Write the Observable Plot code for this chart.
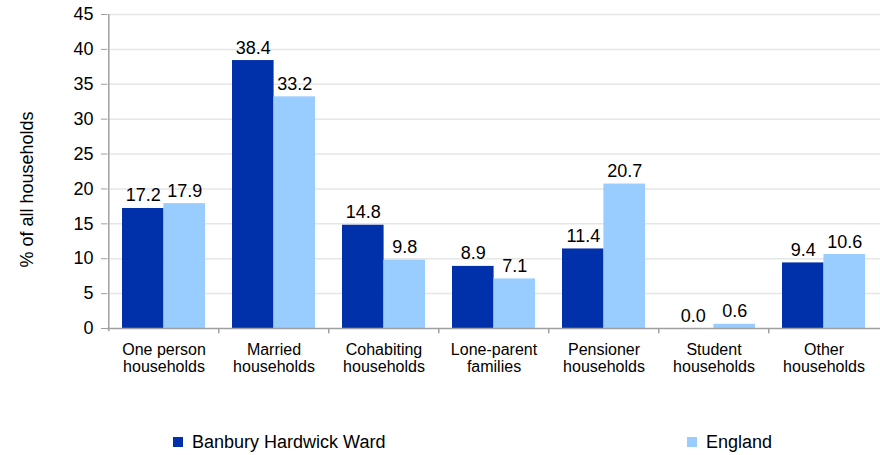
<!DOCTYPE html>
<html><head><meta charset="utf-8">
<script src="https://cdn.jsdelivr.net/npm/d3@7"></script>
<script src="https://cdn.jsdelivr.net/npm/@observablehq/plot@0.6"></script>
<style>
body{margin:0;background:#fff;font-family:"Liberation Sans",Arial,sans-serif;}
#legend{position:relative;width:880px;height:55px;font-size:18px;color:#000;}
.item{position:absolute;top:32px;height:20px;display:flex;align-items:center;white-space:nowrap;}
.sw{width:10px;height:10px;margin-right:9px;}
</style></head><body>
<div id="chart"></div>
<div id="legend"></div>
<script>
const categories = ["One person\nhouseholds","Married\nhouseholds","Cohabiting\nhouseholds","Lone-parent\nfamilies","Pensioner\nhouseholds","Student\nhouseholds","Other\nhouseholds"];
const series = ["Banbury Hardwick Ward","England"];
const banbury = [17.2,38.4,14.8,8.9,11.4,0.0,9.4];
const england = [17.9,33.2,9.8,7.1,20.7,0.6,10.6];
const yTicks = [0,5,10,15,20,25,30,35,40,45];
const colors = ["#0030aa","#99ccff"];
const yLabel = "% of all households";
const legendLeft = [173, 687];

const dataA = categories.map((c,i)=>({category:c, series:series[0], value:banbury[i]}));
const dataB = categories.map((c,i)=>({category:c, series:series[1], value:england[i]}));

const W=880, H=400, mt=14, mb=72, ml=107, mr=0;
const xs = d3.scaleBand().domain(categories).range([ml, W-mr]).paddingInner(0.25).paddingOuter(0.125);
const bw = xs.bandwidth(), step = xs.step();
const axisGray = "#a0a0a0";

const chart = Plot.plot({
  width: W, height: H,
  marginTop: mt, marginBottom: mb, marginLeft: ml, marginRight: mr,
  style: {fontFamily: '"Liberation Sans", Arial, sans-serif', fontSize: "17px", color: "#000", background: "#fff"},
  x: {domain: categories, paddingInner: 0.25, paddingOuter: 0.125, axis: null},
  y: {domain: [0,45], axis: null},
  color: {domain: series, range: colors},
  marks: [
    Plot.ruleY(yTicks.filter(d=>d>0), {stroke: "#e6e6e6", strokeWidth: 1.5}),
    Plot.barY(dataA, {x: "category", y: "value", fill: "series", insetRight: bw/2}),
    Plot.barY(dataB, {x: "category", y: "value", fill: "series", insetLeft: bw/2}),
    Plot.text(dataA, {x: "category", y: "value", text: d=>d.value.toFixed(1), dx: -bw/4, dy: -7, lineAnchor: "bottom", fontSize: 18, fill: "#000"}),
    Plot.text(dataB, {x: "category", y: "value", text: d=>d.value.toFixed(1), dx: bw/4, dy: -7, lineAnchor: "bottom", fontSize: 18, fill: "#000"}),
    Plot.ruleY([0], {stroke: axisGray, strokeWidth: 1.5}),
    Plot.ruleX([categories[0]], {dx: -step/2, y1: -0.45, y2: 45, stroke: axisGray, strokeWidth: 1.5}),
    Plot.ruleX(categories.slice(1), {dx: -step/2, y1: 0, y2: -0.75, stroke: axisGray, strokeWidth: 1.5}),
    Plot.axisY(yTicks, {tickSize: 6, tickPadding: 8, fontSize: 18, stroke: axisGray, label: null}),
    Plot.axisX({tickSize: 0, tickPadding: 15, fontSize: 16, lineHeight: 1.05, label: null}),
    Plot.text([yLabel], {frameAnchor: "left", textAnchor: "middle", rotate: -90, dx: -80, dy: 18, fontSize: 18, fill: "#000", text: d=>d})
  ]
});
document.getElementById("chart").appendChild(chart);

const leg = document.getElementById("legend");
series.forEach((s,i)=>{
  const it = document.createElement("div");
  it.className = "item";
  it.style.left = legendLeft[i] + "px";
  const sw = document.createElement("span");
  sw.className = "sw";
  sw.style.background = colors[i];
  const t = document.createElement("span");
  t.textContent = s;
  it.appendChild(sw); it.appendChild(t);
  leg.appendChild(it);
});
</script>
</body></html>
